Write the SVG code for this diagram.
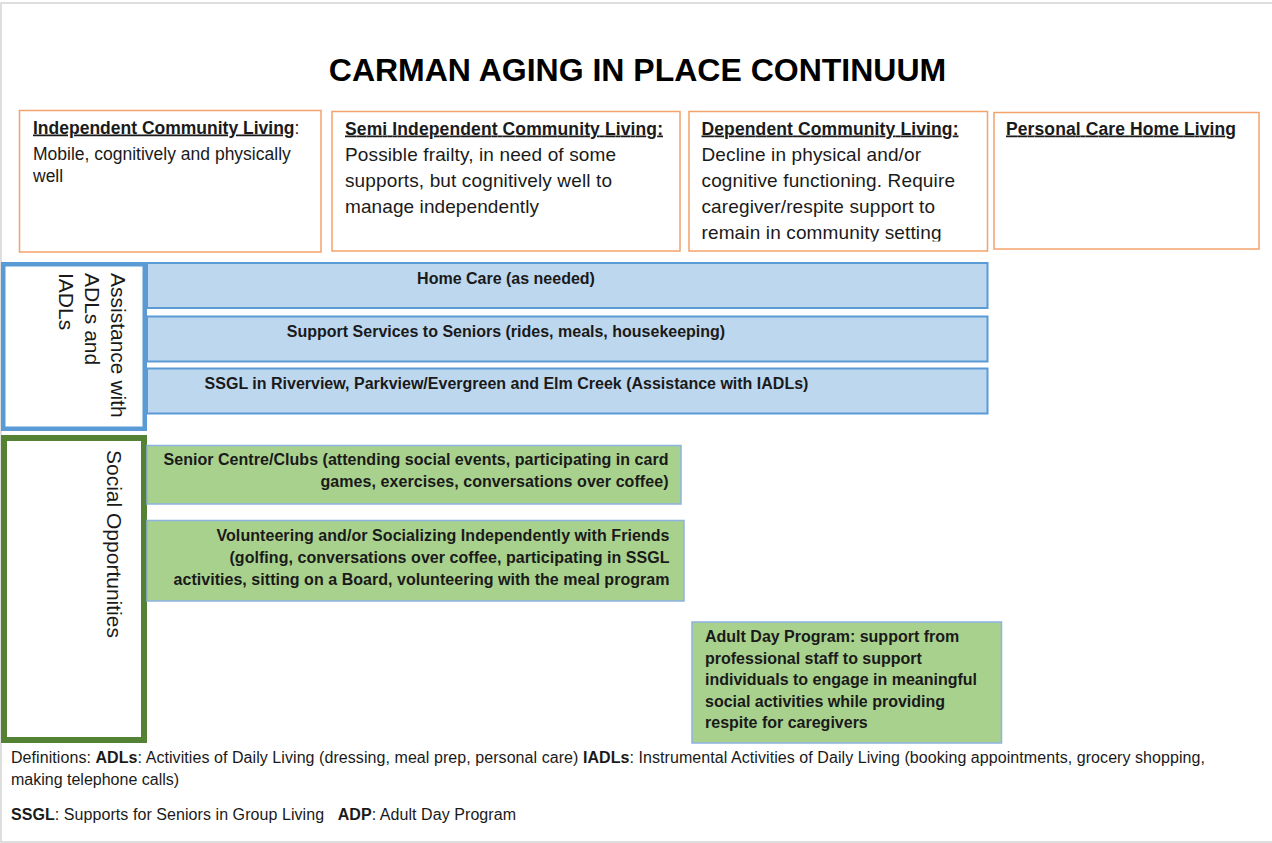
<svg xmlns="http://www.w3.org/2000/svg" width="1272" height="843" viewBox="0 0 1272 843">
<style>
text{font-family:"Liberation Sans",Arial,sans-serif;fill:#1a1a1a}
.ob{fill:#fff;stroke:#F4A26B;stroke-width:1.5}
.bar{fill:#BDD7EE;stroke:#5B9BD5;stroke-width:2}
.gb{fill:#A9D18E;stroke:#8DB3E2;stroke-width:1.5}
.h{font-weight:bold;text-decoration:underline;font-size:17.5px}
.b1{font-size:17.5px}
.b2{font-size:19px}
.bt{font-weight:bold;font-size:16px}
.rot{font-size:21px}
.ft{font-size:16px}
</style>
<defs>
<clipPath id="clip3"><rect x="689" y="112" width="298" height="129.5"/></clipPath>
</defs>
<rect x="0" y="0" width="1272" height="843" fill="#fff"/>
<rect x="1" y="3" width="1276" height="839" fill="none" stroke="#d4d4d4" stroke-width="1.5"/>

<g id="title">
<text x="637.5" y="81" text-anchor="middle" font-size="32" font-weight="bold" style="fill:#000">CARMAN AGING IN PLACE CONTINUUM</text>
</g>

<g id="box-independent">
<rect class="ob" x="19.5" y="110.5" width="301.5" height="141.5"/>
<text x="33" y="133.5" class="b1"><tspan class="h">Independent Community Living</tspan>:</text>
<text x="33" y="160" class="b1">Mobile, cognitively and physically</text>
<text x="33" y="182" class="b1">well</text>
</g>

<g id="box-semi">
<rect class="ob" x="332" y="111.5" width="348" height="139.5"/>
<text x="345" y="134.5" class="h" textLength="318">Semi Independent Community Living:</text>
<text x="345" y="161" class="b2" textLength="271">Possible frailty, in need of some</text>
<text x="345" y="187" class="b2" textLength="267">supports, but cognitively well to</text>
<text x="345" y="213" class="b2" textLength="194">manage independently</text>
</g>

<g id="box-dependent">
<rect class="ob" x="689" y="111.5" width="298.5" height="139.5"/>
<text x="701.5" y="134.5" class="h" textLength="257">Dependent Community Living:</text>
<g clip-path="url(#clip3)">
<text x="701.5" y="160.5" class="b2" textLength="219.5">Decline in physical and/or</text>
<text x="701.5" y="186.5" class="b2" textLength="253.5">cognitive functioning. Require</text>
<text x="701.5" y="212.5" class="b2" textLength="233.5">caregiver/respite support to</text>
<text x="701.5" y="239" class="b2" textLength="240">remain in community setting</text>
</g>
</g>

<g id="box-pch">
<rect class="ob" x="994" y="112.5" width="265" height="136.5"/>
<text x="1006" y="134.5" class="h" textLength="230">Personal Care Home Living</text>
</g>

<g id="label-adl">
<rect x="3.25" y="264.25" width="141.5" height="164.5" fill="#fff" stroke="#5B9BD5" stroke-width="4.5"/>
<text class="rot" transform="translate(111,273) rotate(90)">Assistance with</text>
<text class="rot" transform="translate(85,273) rotate(90)">ADLs and</text>
<text class="rot" transform="translate(58.5,273) rotate(90)">IADLs</text>
</g>

<g id="bar-homecare">
<rect class="bar" x="147" y="263" width="840.5" height="45"/>
<text x="506" y="284" class="bt" text-anchor="middle">Home Care (as needed)</text>
</g>
<g id="bar-support">
<rect class="bar" x="147" y="316.5" width="840.5" height="45"/>
<text x="506" y="337" class="bt" text-anchor="middle">Support Services to Seniors (rides, meals, housekeeping)</text>
</g>
<g id="bar-ssgl">
<rect class="bar" x="147" y="368.5" width="840.5" height="45"/>
<text x="506.5" y="389" class="bt" text-anchor="middle">SSGL in Riverview, Parkview/Evergreen and Elm Creek (Assistance with IADLs)</text>
</g>

<g id="label-social">
<rect x="4" y="438" width="140" height="302" fill="#fff" stroke="#548235" stroke-width="6"/>
<text class="rot" transform="translate(106.5,450) rotate(90)">Social Opportunities</text>
</g>

<g id="green-senior">
<rect class="gb" x="147" y="445.5" width="534" height="58.5"/>
<text x="668.5" y="465" class="bt" text-anchor="end" textLength="505">Senior Centre/Clubs (attending social events, participating in card</text>
<text x="668.5" y="487" class="bt" text-anchor="end" textLength="348">games, exercises, conversations over coffee)</text>
</g>

<g id="green-volunteer">
<rect class="gb" x="147" y="520.5" width="537" height="80.5"/>
<text x="669.5" y="541" class="bt" text-anchor="end" textLength="453">Volunteering and/or Socializing Independently with Friends</text>
<text x="669.5" y="563" class="bt" text-anchor="end" textLength="440">(golfing, conversations over coffee, participating in SSGL</text>
<text x="669.5" y="585" class="bt" text-anchor="end" textLength="496">activities, sitting on a Board, volunteering with the meal program</text>
</g>

<g id="green-adp">
<rect class="gb" x="692" y="622" width="309.5" height="121"/>
<text x="705" y="642" class="bt">Adult Day Program: support from</text>
<text x="705" y="663.5" class="bt">professional staff to support</text>
<text x="705" y="685" class="bt">individuals to engage in meaningful</text>
<text x="705" y="706.5" class="bt">social activities while providing</text>
<text x="705" y="728" class="bt">respite for caregivers</text>
</g>

<g id="connectors"></g>

<g id="footer">
<text x="11" y="763" class="ft" textLength="1194">Definitions: <tspan font-weight="bold">ADLs</tspan>: Activities of Daily Living (dressing, meal prep, personal care) <tspan font-weight="bold">IADLs</tspan>: Instrumental Activities of Daily Living (booking appointments, grocery shopping,</text>
<text x="11" y="785" class="ft">making telephone calls)</text>
<text x="11" y="820" class="ft" textLength="505" xml:space="preserve"><tspan font-weight="bold">SSGL</tspan>: Supports for Seniors in Group Living   <tspan font-weight="bold">ADP</tspan>: Adult Day Program</text>
</g>
</svg>
